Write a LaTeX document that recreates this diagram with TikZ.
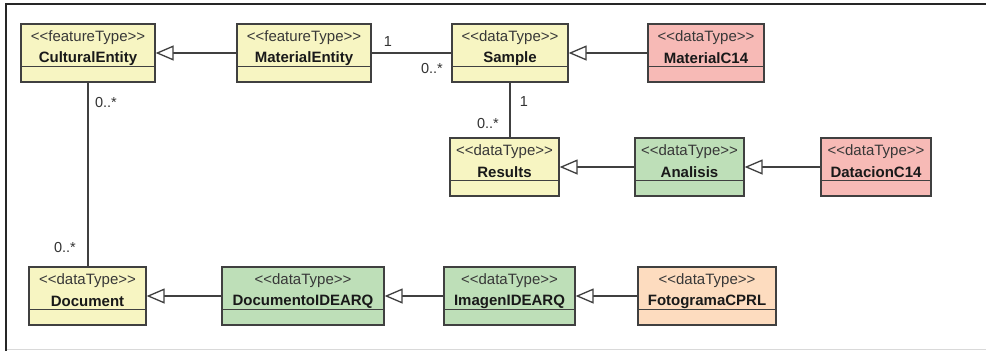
\documentclass[tikz,border=0pt]{standalone}
\usepackage{fontspec}
\setmainfont{Liberation Sans}
\usetikzlibrary{arrows.meta}
\definecolor{cyel}{HTML}{F7F5C2}
\definecolor{cpink}{HTML}{F7BAB6}
\definecolor{cgreen}{HTML}{BEDFB8}
\definecolor{corange}{HTML}{FDDCBF}
\definecolor{cline}{HTML}{404040}
\newcommand\umlcls[7]{%
  \node[umlbox, fill=#5, minimum width=#4] (#1) at (#2,#3+29) {};
  \draw[sepline] ([yshift=-43pt]#1.north west) -- ([yshift=-43pt]#1.north east);
  \node[stereo] (#1-s) at ([yshift=-14pt]#1.north) {<\kern0pt<#6>\kern0pt>};
  \node[ctitle] (#1-t) at ([yshift=-35pt]#1.north) {#7};
}
\begin{document}
\begin{tikzpicture}[x=1pt,y=-1pt,
  umlbox/.style={draw=cline, line width=1.3pt, rectangle, minimum height=58pt, inner sep=0pt},
  sepline/.style={draw=cline, line width=1pt},
  stereo/.style={font=\fontsize{15}{17}\selectfont, text=black!78, inner sep=0pt},
  ctitle/.style={font=\fontsize{15}{17}\selectfont\bfseries, text=black!90, inner sep=0pt},
  assoc/.style={draw=cline, line width=1.1pt},
  gen/.style={draw=cline, line width=1.3pt, -{Triangle[open, length=18pt, width=15pt, line width=1.3pt, fill=white]}},
  mult/.style={font=\fontsize{14.5}{16}\selectfont, text=black!80, inner sep=0pt}]
\useasboundingbox (0,0) rectangle (986,351);
\fill[white] (0,0) rectangle (986,351);
% frame
\coordinate (fTL) at (6,4);
\coordinate (fTR) at (986,4);
\coordinate (fBL) at (6,351);
\coordinate (gBL) at (6,349);
\coordinate (gBR) at (986,349);
\draw[black!15, line width=1pt] (gBL) -- (gBR);
\draw[black!85, line width=1.5pt] (fTR) -- (fTL) -- (fBL);
% classes
\umlcls{CE}{88}{24}{134pt}{cyel}{featureType}{CulturalEntity}
\umlcls{ME}{304}{24}{134pt}{cyel}{featureType}{MaterialEntity}
\umlcls{SA}{510}{24}{116pt}{cyel}{dataType}{Sample}
\umlcls{MC}{706}{24}{116pt}{cpink}{dataType}{MaterialC14}
\umlcls{RE}{504.5}{138}{109pt}{cyel}{dataType}{Results}
\umlcls{AN}{689.5}{138}{109pt}{cgreen}{dataType}{Analisis}
\umlcls{DC}{876}{138}{110pt}{cpink}{dataType}{DatacionC14}
\umlcls{DO}{87.5}{267}{117pt}{cyel}{dataType}{Document}
\umlcls{DI}{303}{267}{162pt}{cgreen}{dataType}{DocumentoIDEARQ}
\umlcls{IM}{509.5}{267}{131pt}{cgreen}{dataType}{ImagenIDEARQ}
\umlcls{FO}{707}{267}{138pt}{corange}{dataType}{FotogramaCPRL}
% associations
\draw[assoc] (ME.east) -- (SA.west);
\draw[assoc] (SA.south) -- (SA.south |- RE.north);
\draw[assoc] (CE.south) -- (CE.south |- DO.north);
% generalizations
\draw[gen] (ME.west) -- (CE.east);
\draw[gen] (MC.west) -- (SA.east);
\draw[gen] (AN.west) -- (RE.east);
\draw[gen] (DC.west) -- (AN.east);
\draw[gen] (DI.west) -- (DO.east);
\draw[gen] (IM.west) -- (DI.east);
\draw[gen] (FO.west) -- (IM.east);
% multiplicities
\node[mult] (m1) at (388,42) {1};
\node[mult] (m2) at (432,69) {0..*};
\node[mult] (m3) at (524,102) {1};
\node[mult] (m4) at (488,124) {0..*};
\node[mult] (m5) at (106,103) {0..*};
\node[mult] (m6) at (65,248) {0..*};
\end{tikzpicture}
\end{document}
